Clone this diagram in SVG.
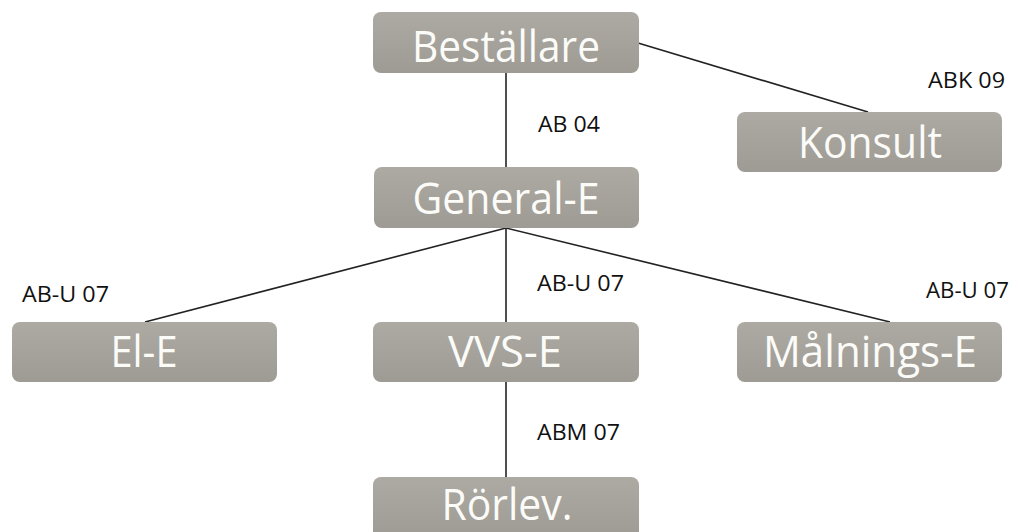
<svg xmlns="http://www.w3.org/2000/svg" width="1022" height="532" viewBox="0 0 1022 532">
  <defs>
    <linearGradient id="boxFill" x1="0" y1="0" x2="0" y2="1">
      <stop offset="0" stop-color="#adaaa4"/>
      <stop offset="1" stop-color="#9e9a94"/>
    </linearGradient>
    <style>
      .box { fill: url(#boxFill); }
      .name { font-family: "Open Sans", "Liberation Sans", sans-serif; font-size: 44px; fill: #fbfbf8; text-anchor: middle; }
      .wire { stroke: #222222; stroke-width: 1.6; fill: none; }
      .tag { font-family: "Open Sans", "Liberation Sans", sans-serif; font-size: 22px; fill: #111111; }
    </style>
  </defs>

  <rect width="1022" height="532" fill="#ffffff"/>

  <!-- connectors -->
  <g id="connectors">
    <line class="wire" x1="506" y1="73" x2="506" y2="167"/>
    <line class="wire" x1="638" y1="43" x2="868" y2="112"/>
    <line class="wire" x1="506" y1="228" x2="145" y2="322"/>
    <line class="wire" x1="506" y1="228" x2="506" y2="322"/>
    <line class="wire" x1="506" y1="228" x2="890" y2="322"/>
    <line class="wire" x1="506" y1="382" x2="506" y2="477"/>
  </g>

  <!-- contract labels -->
  <g id="labels">
    <text class="tag" x="538" y="132" textLength="62" lengthAdjust="spacingAndGlyphs">AB 04</text>
    <text class="tag" x="928" y="88" textLength="77" lengthAdjust="spacingAndGlyphs">ABK 09</text>
    <text class="tag" x="22" y="302" textLength="87" lengthAdjust="spacingAndGlyphs">AB-U 07</text>
    <text class="tag" x="537" y="291" textLength="87" lengthAdjust="spacingAndGlyphs">AB-U 07</text>
    <text class="tag" x="926" y="298" textLength="83" lengthAdjust="spacingAndGlyphs">AB-U 07</text>
    <text class="tag" x="537" y="440" textLength="83" lengthAdjust="spacingAndGlyphs">ABM 07</text>
  </g>

  <g id="node-bestallare">
    <rect class="box" x="373" y="12" width="266" height="61" rx="8"/>
    <text class="name" x="506" y="62" textLength="188" lengthAdjust="spacingAndGlyphs">Beställare</text>
  </g>

  <g id="node-konsult">
    <rect class="box" x="737" y="112" width="265" height="60" rx="8"/>
    <text class="name" x="870" y="158" textLength="144" lengthAdjust="spacingAndGlyphs">Konsult</text>
  </g>

  <g id="node-general-e">
    <rect class="box" x="374" y="167" width="265" height="61" rx="8"/>
    <text class="name" x="506" y="214" textLength="187" lengthAdjust="spacingAndGlyphs">General-E</text>
  </g>

  <g id="node-el-e">
    <rect class="box" x="12" y="322" width="265" height="60" rx="8"/>
    <text class="name" x="144" y="367" textLength="67" lengthAdjust="spacingAndGlyphs">El-E</text>
  </g>

  <g id="node-vvs-e">
    <rect class="box" x="373" y="322" width="266" height="60" rx="8"/>
    <text class="name" x="505" y="367" textLength="114" lengthAdjust="spacingAndGlyphs">VVS-E</text>
  </g>

  <g id="node-malnings-e">
    <rect class="box" x="737" y="322" width="265" height="60" rx="8"/>
    <text class="name" x="870" y="367" textLength="214" lengthAdjust="spacingAndGlyphs">Målnings-E</text>
  </g>

  <g id="node-rorlev">
    <rect class="box" x="373" y="477" width="266" height="62" rx="8"/>
    <text class="name" x="507" y="520" textLength="131" lengthAdjust="spacingAndGlyphs">Rörlev.</text>
  </g>
</svg>
